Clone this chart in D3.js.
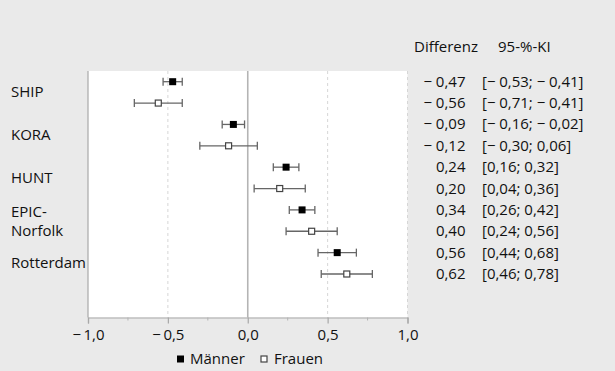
<!DOCTYPE html>
<html>
<head>
<meta charset="utf-8">
<script src="https://cdn.jsdelivr.net/npm/d3@7"></script>
<style>
  html, body { margin: 0; padding: 0; background: #eaeaea; }
  svg { display: block; font-family: "Open Sans", "Noto Sans", sans-serif; }
</style>
</head>
<body>
<div id="chart"></div>
<script>
// Studien, je zwei Zeilen (Männer / Frauen)
const studies = [['SHIP'], ['KORA'], ['HUNT'], ['EPIC-', 'Norfolk'], ['Rotterdam']]
const menDiff = [-0.47, -0.09, 0.24, 0.34, 0.56]
const menLow = [-0.53, -0.16, 0.16, 0.26, 0.44]
const menHigh = [-0.41, -0.02, 0.32, 0.42, 0.68]
const womenDiff = [-0.56, -0.12, 0.20, 0.40, 0.62]
const womenLow = [-0.71, -0.30, 0.04, 0.24, 0.46]
const womenHigh = [-0.41, 0.06, 0.36, 0.56, 0.78]
const xTicks = [-1, -0.5, 0, 0.5, 1]
const xMinorTicks = [-0.75, -0.25, 0.25, 0.75]
const legendLabels = ['Männer', 'Frauen']

const width = 615
const height = 371
const plotLeft = 88
const plotRight = 407.5
const plotTop = 71
const plotBottom = 317.5
const textColor = '#111111'
const barColor = '#666666'
const fontSize = 15

// rows: Männer then Frauen for every study
const rows = []
studies.forEach((s, i) => {
  rows.push({ study: i, sex: 'm', diff: menDiff[i], lo: menLow[i], hi: menHigh[i] })
  rows.push({ study: i, sex: 'f', diff: womenDiff[i], lo: womenLow[i], hi: womenHigh[i] })
})

const fmt = v => {
  const s = Math.abs(v).toFixed(2).replace('.', ',')
  return v < 0 ? '\u2212\u2005' + s : s
}
const fmtTick = v => {
  const s = Math.abs(v).toFixed(1).replace('.', ',')
  return v < 0 ? '\u2212\u2009' + s : s
}

const svg = d3.select('#chart')
  .append('svg')
  .attr('width', width)
  .attr('height', height)

svg.append('rect')
  .attr('width', width)
  .attr('height', height)
  .attr('fill', '#eaeaea')

const x = d3.scaleLinear()
  .domain([-1, 1])
  .range([plotLeft, plotRight])

const y = d3.scaleLinear()
  .domain([0, rows.length - 1])
  .range([81.7, 274])

// plot area
svg.append('rect')
  .attr('x', plotLeft)
  .attr('y', plotTop)
  .attr('width', plotRight - plotLeft)
  .attr('height', plotBottom - plotTop)
  .attr('fill', '#ffffff')

// grid
svg.append('g')
  .selectAll('line')
  .data(xTicks.filter(t => t !== -1))
  .join('line')
  .attr('x1', d => x(d))
  .attr('x2', d => x(d))
  .attr('y1', plotTop)
  .attr('y2', plotBottom)
  .attr('stroke', d => d === 0 ? '#b4b4b4' : '#d6d6d6')
  .attr('stroke-width', d => d === 0 ? 1.6 : 1)
  .attr('stroke-dasharray', d => d === 0 ? null : '3,3')

// left border
svg.append('line')
  .attr('x1', plotLeft).attr('x2', plotLeft)
  .attr('y1', plotTop).attr('y2', plotBottom)
  .attr('stroke', '#a8a8a8')
  .attr('stroke-width', 1.2)

// x axis
const xAxis = svg.append('g')
  .attr('transform', `translate(0,${plotBottom})`)
  .call(d3.axisBottom(x).tickValues(xTicks).tickSize(6).tickPadding(6).tickFormat(fmtTick))

xAxis.select('.domain')
  .attr('stroke', '#a8a8a8')
  .attr('stroke-width', 1.2)
xAxis.selectAll('.tick line')
  .attr('stroke', '#a8a8a8')
  .attr('stroke-width', 1.2)
xAxis.selectAll('.tick text')
  .attr('fill', textColor)
  .style('font-size', fontSize + 'px')
  .style('font-family', '"Open Sans", "Noto Sans", sans-serif')

svg.append('g')
  .selectAll('line')
  .data(xMinorTicks)
  .join('line')
  .attr('x1', d => x(d))
  .attr('x2', d => x(d))
  .attr('y1', plotBottom)
  .attr('y2', plotBottom + 3)
  .attr('stroke', '#b4b4b4')

// study labels
const labels = svg.append('g')
  .selectAll('text')
  .data(studies)
  .join('text')
  .attr('x', 11)
  .attr('y', (d, i) => {
    const mid = (y(2 * i) + y(2 * i + 1)) / 2
    return mid + 5 - (d.length - 1) * 9
  })
  .attr('fill', textColor)
  .style('font-size', fontSize + 'px')

labels.selectAll('tspan')
  .data(d => d)
  .join('tspan')
  .attr('x', 11)
  .attr('dy', (d, i) => i === 0 ? 0 : 19)
  .text(d => d)

// error bars
const bars = svg.append('g')
  .selectAll('g')
  .data(rows)
  .join('g')
  .attr('transform', (d, i) => `translate(0,${y(i)})`)

bars.append('line')
  .attr('x1', d => x(d.lo))
  .attr('x2', d => x(d.hi))
  .attr('stroke', barColor)
  .attr('stroke-width', 1.3)

bars.selectAll('line.cap')
  .data(d => [d.lo, d.hi])
  .join('line')
  .attr('class', 'cap')
  .attr('x1', d => x(d))
  .attr('x2', d => x(d))
  .attr('y1', -4)
  .attr('y2', 4)
  .attr('stroke', barColor)
  .attr('stroke-width', 1.3)

bars.append('rect')
  .attr('x', d => x(d.diff) - (d.sex === 'm' ? 3.5 : 3))
  .attr('y', d => d.sex === 'm' ? -3.5 : -3)
  .attr('width', d => d.sex === 'm' ? 7 : 6)
  .attr('height', d => d.sex === 'm' ? 7 : 6)
  .attr('fill', d => d.sex === 'm' ? '#000000' : '#ffffff')
  .attr('stroke', d => d.sex === 'm' ? 'none' : '#444444')
  .attr('stroke-width', 1.2)

// right-hand table
svg.append('text')
  .attr('x', 414)
  .attr('y', 52)
  .attr('fill', textColor)
  .style('font-size', fontSize + 'px')
  .text('Differenz')

svg.append('text')
  .attr('x', 498)
  .attr('y', 52)
  .attr('fill', textColor)
  .style('font-size', fontSize + 'px')
  .text('95-%-KI')

svg.append('g')
  .selectAll('text')
  .data(rows)
  .join('text')
  .attr('x', 465.5)
  .attr('y', (d, i) => y(i) + 5)
  .attr('text-anchor', 'end')
  .attr('fill', textColor)
  .style('font-size', fontSize + 'px')
  .text(d => fmt(d.diff))

svg.append('g')
  .selectAll('text')
  .data(rows)
  .join('text')
  .attr('x', 482)
  .attr('y', (d, i) => y(i) + 5)
  .attr('fill', textColor)
  .style('font-size', fontSize + 'px')
  .text(d => '[' + fmt(d.lo) + '; ' + fmt(d.hi) + ']')

// legend
const legendX = [177, 261]
const legend = svg.append('g')
  .selectAll('g')
  .data(legendLabels)
  .join('g')
  .attr('transform', (d, i) => `translate(${legendX[i]},359)`)

legend.append('rect')
  .attr('x', 0)
  .attr('y', (d, i) => i === 0 ? -3.5 : -3)
  .attr('width', (d, i) => i === 0 ? 7 : 6)
  .attr('height', (d, i) => i === 0 ? 7 : 6)
  .attr('fill', (d, i) => i === 0 ? '#000000' : '#ffffff')
  .attr('stroke', (d, i) => i === 0 ? 'none' : '#444444')
  .attr('stroke-width', 1.2)

legend.append('text')
  .attr('x', 13)
  .attr('y', 5)
  .attr('fill', textColor)
  .style('font-size', fontSize + 'px')
  .text(d => d)
</script>
</body>
</html>
